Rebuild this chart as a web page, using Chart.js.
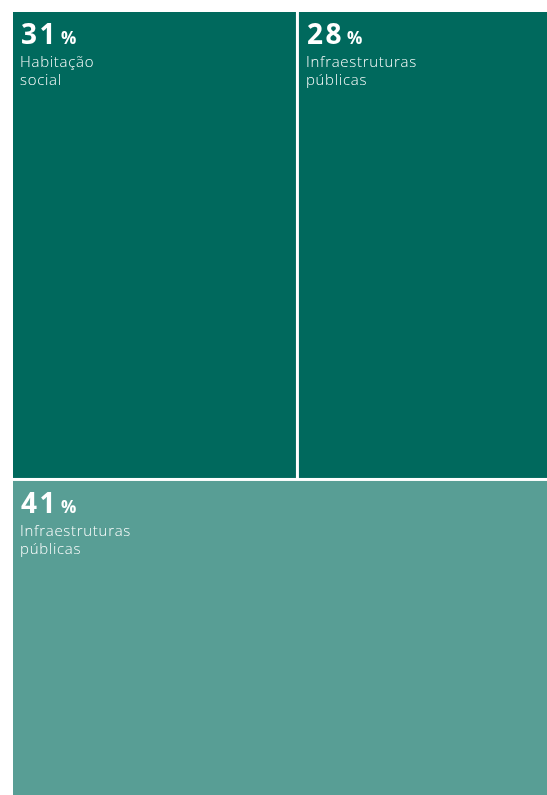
<!DOCTYPE html>
<html>
<head>
<meta charset="utf-8">
<script src="https://cdn.jsdelivr.net/npm/chart.js@4"></script>
<style>
  html, body { margin: 0; padding: 0; background: #fff; overflow: hidden; width: 547px; height: 795px; }
  canvas { display: block; }
</style>
</head>
<body>
<canvas id="treemap" width="547" height="795"></canvas>
<script>
// treemap data: shares (%) and which row each block sits in
const labels = [["Habitação", "social"], ["Infraestruturas", "públicas"], ["Infraestruturas", "públicas"]];
const shares = [31, 28, 41];
const rowOf = [0, 0, 1];
const colors = ["#00695d", "#00695d", "#589e95"];

function layoutBlocks() {
  // rows stacked top to bottom, blocks side by side inside a row, all in 0..100 data units
  const rowTotals = [];
  rowOf.forEach((r, i) => { rowTotals[r] = (rowTotals[r] || 0) + shares[i]; });
  const grand = shares.reduce((a, b) => a + b, 0);
  const blocks = [];
  let yStart = 0;
  rowTotals.forEach((tot, r) => {
    const h = tot / grand * 100;
    let xStart = 0;
    shares.forEach((v, i) => {
      if (rowOf[i] !== r) return;
      const w = v / tot * 100;
      blocks.push({ i, x0: xStart, x1: xStart + w, y0: yStart, y1: yStart + h });
      xStart += w;
    });
    yStart += h;
  });
  return blocks;
}

const treemapPlugin = {
  id: "treemapBlocks",
  afterDatasetsDraw(chart) {
    const { ctx, scales: { x, y } } = chart;
    const gap = 1.5;
    ctx.save();
    layoutBlocks().forEach(b => {
      const left = x.getPixelForValue(b.x0) + gap;
      const right = x.getPixelForValue(b.x1) - gap;
      const top = y.getPixelForValue(b.y0) + gap;
      const bottom = y.getPixelForValue(b.y1) - gap;
      ctx.fillStyle = colors[b.i];
      ctx.fillRect(left, top, right - left, bottom - top);

      ctx.fillStyle = "#ffffff";
      ctx.textBaseline = "alphabetic";
      ctx.textAlign = "left";
      ctx.font = "bold 28px 'Open Sans'";
      ctx.letterSpacing = "2.5px";
      const num = String(shares[b.i]);
      ctx.fillText(num, left + 8, top + 32);
      const nw = ctx.measureText(num).width;
      ctx.font = "bold 17px 'Open Sans'";
      ctx.letterSpacing = "0px";
      ctx.fillText("%", left + 8 + nw + 3, top + 32);

      ctx.font = "300 15px 'Open Sans'";
      ctx.letterSpacing = "0.7px";
      labels[b.i].forEach((line, k) => {
        ctx.fillText(line, left + 7, top + 55 + k * 18);
      });
    });
    ctx.restore();
  }
};

// the treemap runs a little past the right and bottom edges of the frame,
// so the visible chart area covers slightly less than the full 0..100 range
new Chart(document.getElementById("treemap"), {
  type: "scatter",
  data: { datasets: [{ data: [] }] },
  options: {
    responsive: false,
    animation: false,
    layout: { padding: { left: 11.5, top: 10.5, right: 0, bottom: 0 } },
    scales: {
      x: { type: "linear", min: 0, max: 98.4, display: false },
      y: { type: "linear", min: 0, max: 98.7, reverse: true, display: false }
    },
    plugins: { legend: { display: false }, tooltip: { enabled: false } }
  },
  plugins: [treemapPlugin]
});
</script>
</body>
</html>
